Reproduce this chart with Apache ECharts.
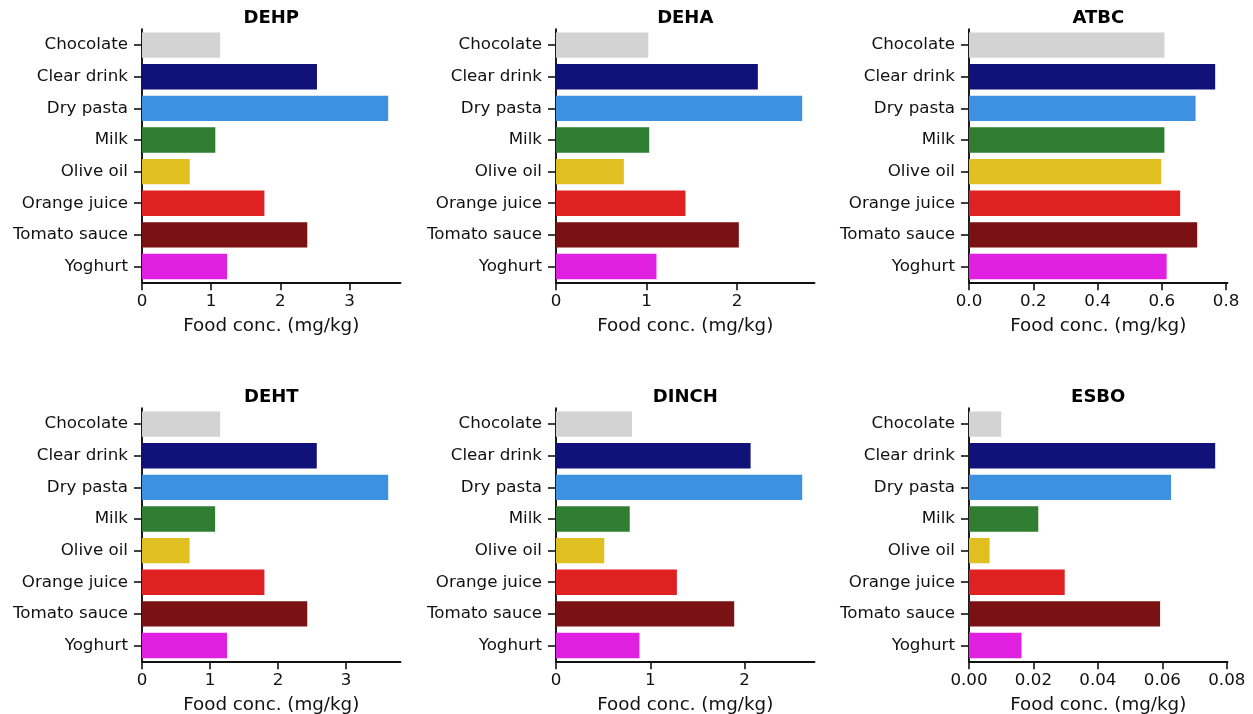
<!DOCTYPE html>
<html>
<head>
<meta charset="utf-8">
<script src="https://cdn.jsdelivr.net/npm/echarts@6/dist/echarts.min.js"></script>
<style>
html,body{margin:0;padding:0;background:#fff;}
#chart{width:1253px;height:714px;}
</style>
</head>
<body>
<div id="chart"></div>
<script>
// ---- data ----
const categories = ['Chocolate','Clear drink','Dry pasta','Milk','Olive oil','Orange juice','Tomato sauce','Yoghurt'];
const titles = ['DEHP','DEHA','ATBC','DEHT','DINCH','ESBO'];
const dehp  = [1.13, 2.53, 3.56, 1.06, 0.69, 1.77, 2.39, 1.23];
const deha  = [1.02, 2.23, 2.72, 1.03, 0.75, 1.43, 2.02, 1.11];
const atbc  = [0.608, 0.766, 0.705, 0.608, 0.598, 0.657, 0.710, 0.615];
const deht  = [1.15, 2.57, 3.62, 1.075, 0.70, 1.80, 2.43, 1.25];
const dinch = [0.806, 2.064, 2.611, 0.782, 0.512, 1.282, 1.890, 0.885];
const esbo  = [0.0100, 0.0764, 0.0627, 0.0215, 0.0064, 0.0297, 0.0593, 0.0163];
const ticksDEHP  = [0, 1, 2, 3];
const ticksDEHA  = [0, 1, 2];
const ticksATBC  = [0, 0.2, 0.4, 0.6, 0.8];
const ticksDEHT  = [0, 1, 2, 3];
const ticksDINCH = [0, 1, 2];
const ticksESBO  = [0, 0.02, 0.04, 0.06, 0.08];
const tickDecimals = [0, 0, 1, 0, 0, 2];
const xName = 'Food conc. (mg/kg)';

// ---- styles ----
const colors = ['#d3d3d3','#10127a','#3c91e3','#2e7d31','#e0c020','#e02122','#7a1112','#e020e0'];
const FONT = 'DejaVu Sans';
const TXT = '#111111';
const seriesData = [dehp, deha, atbc, deht, dinch, esbo];
const tickSets = [ticksDEHP, ticksDEHA, ticksATBC, ticksDEHT, ticksDINCH, ticksESBO];
const colLeft = [142, 556, 969];
const colWidth = 258.5;
const rowTop = [29.3, 408.3];
const plotH = 253;

const grids = [], xAxes = [], yAxes = [], series = [], titleArr = [];
for (let k = 0; k < 6; k++) {
  const c = k % 3, r = Math.floor(k / 3);
  const vals = seriesData[k];
  const dec = tickDecimals[k];
  grids.push({left: colLeft[c], top: rowTop[r], width: colWidth, height: plotH, containLabel: false, outerBoundsMode: 'none'});
  titleArr.push({
    text: titles[k], left: colLeft[c] + colWidth / 2 - 5, top: rowTop[r] - 25, textAlign: 'center',
    textStyle: {fontFamily: FONT, fontSize: 18, fontWeight: 'bold', color: '#000'}
  });
  xAxes.push({
    gridIndex: k, type: 'value', min: 0, max: Math.max(...vals) * 1.05,
    splitLine: {show: false},
    axisLine: {show: true, lineStyle: {color: TXT, width: 1.9}},
    axisTick: {show: true, customValues: tickSets[k], length: 8, lineStyle: {color: TXT, width: 1.6}},
    axisLabel: {show: true, customValues: tickSets[k], margin: 11, fontFamily: FONT, fontSize: 16.7, color: TXT,
      formatter: v => Number(v).toFixed(dec)},
    name: xName, nameLocation: 'middle', nameGap: 35,
    nameTextStyle: {fontFamily: FONT, fontSize: 18.3, color: TXT}
  });
  yAxes.push({
    gridIndex: k, type: 'category', data: categories, inverse: true,
    axisLine: {show: true, lineStyle: {color: TXT, width: 1.9}},
    axisTick: {show: true, alignWithLabel: true, length: 8, lineStyle: {color: TXT, width: 1.6}},
    axisLabel: {margin: 14, fontFamily: FONT, fontSize: 16.7, color: TXT, padding: [4, 0, 0, 0]},
    splitLine: {show: false}
  });
  series.push({
    type: 'bar', xAxisIndex: k, yAxisIndex: k, barCategoryGap: '20%',
    data: vals.map((v, i) => ({value: v, itemStyle: {color: colors[i]}})),
    silent: true, animation: false
  });
}

const chart = echarts.init(document.getElementById('chart'), null, {renderer: 'canvas'});
chart.setOption({
  backgroundColor: '#fff',
  animation: false,
  title: titleArr,
  grid: grids,
  xAxis: xAxes,
  yAxis: yAxes,
  series: series
});
</script>
</body>
</html>
